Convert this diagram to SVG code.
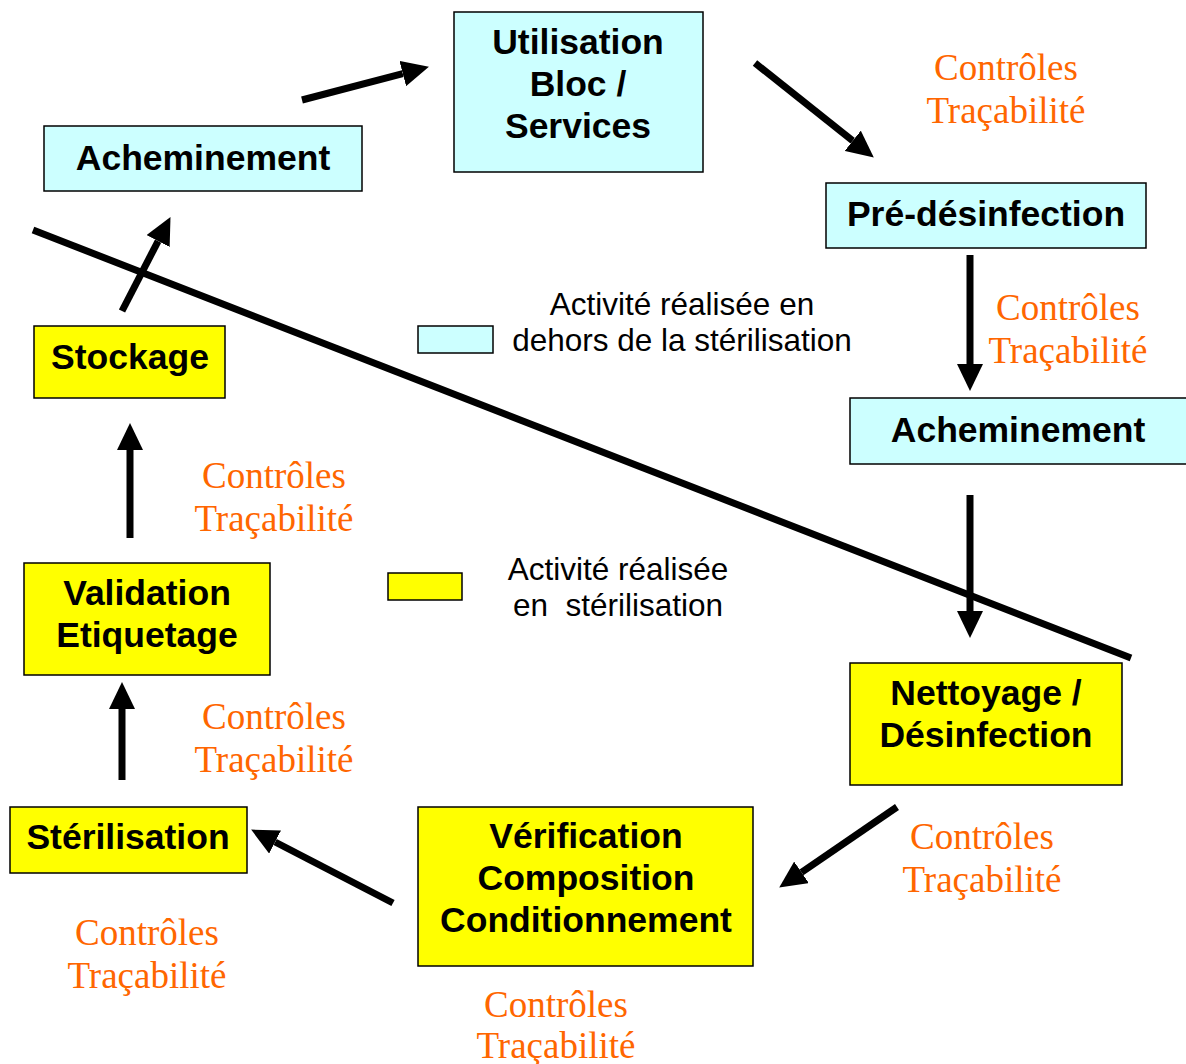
<svg xmlns="http://www.w3.org/2000/svg" width="1186" height="1064" viewBox="0 0 1186 1064">
<style>
.out{fill:#CCFFFF;stroke:#000;stroke-width:1.5}
.in{fill:#FFFF00;stroke:#000;stroke-width:1.5}
.n{font-family:"Liberation Sans",Arial,sans-serif;font-weight:bold;font-size:35.5px;fill:#000;text-anchor:middle}
.lg{font-family:"Liberation Sans",Arial,sans-serif;font-size:31.5px;fill:#000;text-anchor:middle}
.c{font-family:"Liberation Serif","Times New Roman",serif;font-size:37px;fill:#FF6600;text-anchor:middle}
.a{stroke:#000;stroke-width:7;fill:none}
</style>
<defs>
<marker id="ah" markerUnits="userSpaceOnUse" markerWidth="27" markerHeight="26" viewBox="0 0 27 26" refX="0" refY="13" orient="auto">
<path d="M0,0 L27,13 L0,26 z" fill="#000"/>
</marker>
</defs>
<rect width="1186" height="1064" fill="#fff"/>
<line x1="33" y1="230" x2="1131" y2="658" stroke="#000" stroke-width="7"/>
<g id="n-utilisation"><rect class="out" x="454" y="12" width="249" height="160"/><text class="n" x="578" y="54">Utilisation</text><text class="n" x="578" y="96">Bloc /</text><text class="n" x="578" y="138">Services</text></g>
<g id="n-achem1"><rect class="out" x="44" y="126" width="318" height="65"/><text class="n" x="203" y="170">Acheminement</text></g>
<g id="n-predesinf"><rect class="out" x="826" y="183" width="320" height="65"/><text class="n" x="986" y="226">Pré-désinfection</text></g>
<g id="n-achem2"><rect class="out" x="850" y="398" width="340" height="66"/><text class="n" x="1018" y="442">Acheminement</text></g>
<g id="n-stockage"><rect class="in" x="34" y="326" width="191" height="72"/><text class="n" x="130" y="369">Stockage</text></g>
<g id="n-validation"><rect class="in" x="24" y="563" width="246" height="112"/><text class="n" x="147" y="605">Validation</text><text class="n" x="147" y="647">Etiquetage</text></g>
<g id="n-nettoyage"><rect class="in" x="850" y="663" width="272" height="122"/><text class="n" x="986" y="705">Nettoyage /</text><text class="n" x="986" y="747">Désinfection</text></g>
<g id="n-verif"><rect class="in" x="418" y="807" width="335" height="159"/><text class="n" x="586" y="848">Vérification</text><text class="n" x="586" y="890">Composition</text><text class="n" x="586" y="932">Conditionnement</text></g>
<g id="n-sterilisation"><rect class="in" x="10" y="807" width="237" height="66"/><text class="n" x="128" y="849">Stérilisation</text></g>
<g id="legend">
<rect class="out" x="418" y="326" width="75" height="27"/>
<text class="lg" x="682" y="315">Activité réalisée en</text>
<text class="lg" x="682" y="351">dehors de la stérilisation</text>
<rect class="in" x="388" y="573" width="74" height="27"/>
<text class="lg" x="618" y="580">Activité réalisée</text>
<text class="lg" x="618" y="616" xml:space="preserve">en  stérilisation</text>
</g>
<g id="labels">
<text class="c" x="1006" y="80">Contrôles</text><text class="c" x="1006" y="123">Traçabilité</text>
<text class="c" x="1068" y="320">Contrôles</text><text class="c" x="1068" y="363">Traçabilité</text>
<text class="c" x="274" y="488">Contrôles</text><text class="c" x="274" y="531">Traçabilité</text>
<text class="c" x="274" y="729">Contrôles</text><text class="c" x="274" y="772">Traçabilité</text>
<text class="c" x="982" y="849">Contrôles</text><text class="c" x="982" y="892">Traçabilité</text>
<text class="c" x="147" y="945">Contrôles</text><text class="c" x="147" y="988">Traçabilité</text>
<text class="c" x="556" y="1017">Contrôles</text><text class="c" x="556" y="1058">Traçabilité</text>
</g>
<g id="connectors">
<line class="a" x1="302" y1="100" x2="402.8" y2="73.6" marker-end="url(#ah)"/>
<line class="a" x1="755" y1="63" x2="852.7" y2="140.8" marker-end="url(#ah)"/>
<line class="a" x1="970" y1="255" x2="970" y2="364" marker-end="url(#ah)"/>
<line class="a" x1="970" y1="495" x2="970" y2="611" marker-end="url(#ah)"/>
<line class="a" x1="897" y1="807" x2="801.5" y2="872.3" marker-end="url(#ah)"/>
<line class="a" x1="393" y1="903" x2="275.1" y2="842" marker-end="url(#ah)"/>
<line class="a" x1="122" y1="780" x2="122" y2="709" marker-end="url(#ah)"/>
<line class="a" x1="130" y1="538" x2="130" y2="450" marker-end="url(#ah)"/>
<line class="a" x1="122" y1="311" x2="158.1" y2="241.1" marker-end="url(#ah)"/>
</g>
</svg>
